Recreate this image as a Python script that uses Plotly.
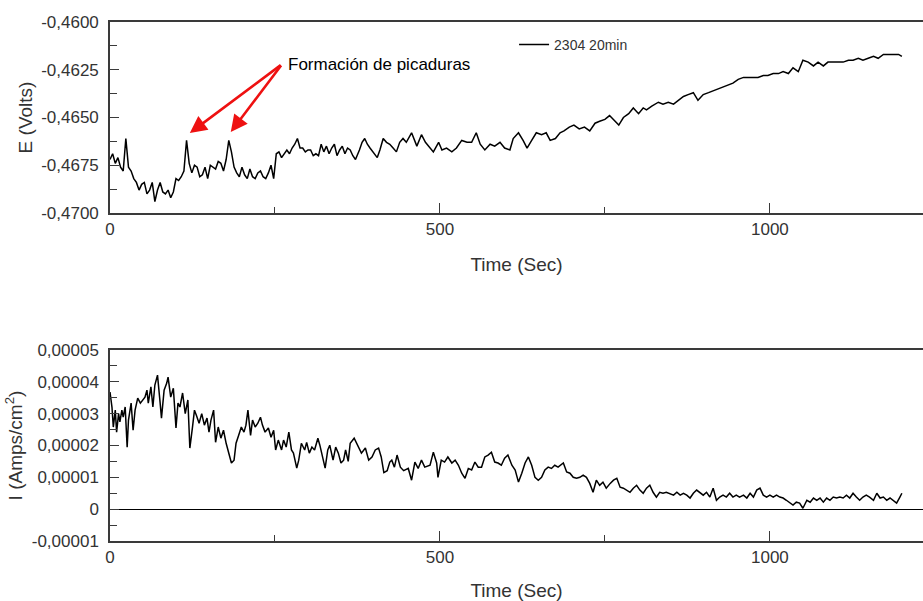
import plotly.graph_objects as go

# ---------------- data ----------------
t_E = [0, 4, 8, 12, 16, 20, 24, 28, 32, 36, 40, 44, 48, 52, 56, 60, 64, 68, 72, 76,
       80, 84, 88, 92, 96, 100, 104, 108, 112, 116, 120, 124, 128, 132, 136, 140, 144, 148, 152, 156,
       160, 164, 168, 172, 176, 180, 184, 188, 192, 196, 200, 204, 208, 212, 216, 220, 224, 228, 232, 236,
       240, 244, 248, 252, 256, 260, 264, 268, 272, 276, 280, 284, 288, 292, 296, 300, 304, 308, 312, 316,
       320, 324, 328, 332, 336, 340, 344, 348, 352, 356, 360, 364, 368, 372, 378, 382, 386, 390,
       394, 399, 405, 409, 414, 419, 424, 429, 434, 439, 444, 449, 457, 465, 472, 478, 483, 490, 498, 503,
       510, 518, 525, 533, 541, 548, 555, 561, 568, 576, 583, 591, 598, 606, 611, 619, 626, 632, 639, 646,
       654, 661, 667, 675, 682, 688, 696, 703, 711, 719, 727, 735, 742, 750, 757, 763, 771, 778, 786, 793,
       801, 808, 813, 821, 831, 838, 846, 854, 861, 869, 876, 884, 891, 899, 907, 914, 922, 929, 937, 944,
       952, 960, 967, 975, 982, 990, 997, 1005, 1013, 1020, 1028, 1035, 1043, 1050, 1058, 1066, 1073, 1081, 1088, 1096,
       1104, 1111, 1119, 1126, 1134, 1141, 1149, 1157, 1164, 1172, 1179, 1187, 1195, 1200]
E_volts = [-0.4672, -0.4669, -0.4674, -0.4671, -0.4676, -0.4678, -0.4661, -0.4676, -0.4678, -0.4682,
           -0.4684, -0.4688, -0.4685, -0.4684, -0.4690, -0.4688, -0.4684, -0.4694, -0.4688, -0.4684,
           -0.4689, -0.4690, -0.4688, -0.4692, -0.4689, -0.4682, -0.4683, -0.4681, -0.4678, -0.4662,
           -0.4674, -0.4679, -0.4675, -0.4676, -0.4681, -0.4680, -0.4676, -0.4682, -0.4675, -0.4676,
           -0.4677, -0.4673, -0.4674, -0.4678, -0.4672, -0.4662, -0.4668, -0.4676, -0.4679, -0.4681,
           -0.4676, -0.4680, -0.4682, -0.4677, -0.4681, -0.4682, -0.4679, -0.4678, -0.4681, -0.4682,
           -0.4679, -0.4675, -0.4682, -0.4669, -0.4668, -0.4671, -0.4669, -0.4667, -0.4669, -0.4666,
           -0.4664, -0.4661, -0.4666, -0.4666, -0.4668, -0.4667, -0.4667, -0.4670, -0.4669, -0.4670,
           -0.4664, -0.4668, -0.4665, -0.4669, -0.4666, -0.4664, -0.4670, -0.4667, -0.4665, -0.4669,
           -0.4666, -0.4667, -0.4670, -0.4672, -0.4667, -0.4663, -0.4661, -0.4664,
           -0.4666, -0.4668, -0.4671, -0.4667, -0.4661, -0.4663, -0.4664, -0.4666, -0.4668, -0.4663,
           -0.4661, -0.4663, -0.4658, -0.4665, -0.4659, -0.4663, -0.4665, -0.4668, -0.4663, -0.4667,
           -0.4666, -0.4668, -0.4666, -0.4662, -0.4663, -0.4663, -0.4658, -0.4664, -0.4667, -0.4664,
           -0.4665, -0.4663, -0.4666, -0.4667, -0.4661, -0.4658, -0.4662, -0.4666, -0.4662, -0.4658,
           -0.4659, -0.4658, -0.4662, -0.4661, -0.4658, -0.4657, -0.4655, -0.4654, -0.4656, -0.4655,
           -0.4657, -0.4653, -0.4652, -0.4651, -0.4649, -0.4651, -0.4654, -0.4650, -0.4648, -0.4645,
           -0.4648, -0.4645, -0.4646, -0.4644, -0.4642, -0.4643, -0.4642, -0.4643, -0.4641, -0.4639,
           -0.4638, -0.4637, -0.4641, -0.4638, -0.4637, -0.4636, -0.4635, -0.4634, -0.4633, -0.4632,
           -0.4630, -0.4629, -0.4629, -0.4629, -0.4629, -0.4628, -0.4628, -0.4627, -0.4627, -0.4626,
           -0.4627, -0.4624, -0.4626, -0.4620, -0.4621, -0.4623, -0.4621, -0.4623, -0.4621, -0.4621,
           -0.4621, -0.4621, -0.4620, -0.4620, -0.4619, -0.4620, -0.4619, -0.4618, -0.4619, -0.4617,
           -0.4617, -0.4617, -0.4617, -0.4618]

t_I = [0, 3, 5, 8, 10, 13, 15, 18, 20, 23, 26, 28, 32, 35, 38, 42, 46, 49, 53, 56,
       58, 62, 65, 68, 72, 76, 78, 82, 86, 88, 92, 96, 100, 103, 106, 110, 114, 118, 121, 125,
       128, 131, 135, 139, 143, 147, 150, 153, 157, 160, 164, 168, 172, 176, 180, 184, 188, 191, 195, 199,
       203, 206, 209, 213, 216, 220, 224, 228, 231, 235, 240, 244, 248, 251, 255, 260, 263, 267, 271, 275,
       278, 283, 286, 290, 295, 298, 302, 306, 310, 315, 318, 322, 326, 330, 333, 338, 342, 346, 350, 354,
       357, 361, 364, 370, 376, 381, 387, 392, 397, 402, 407, 411, 415, 420, 424, 427, 431, 435, 440, 445,
       452, 457, 462, 467, 472, 477, 485, 490, 495, 497, 502, 507, 512, 518, 523, 528, 533, 538, 543, 548,
       553, 558, 563, 568, 573, 578, 583, 588, 593, 598, 603, 609, 614, 619, 624, 629, 634, 639, 644, 649,
       654, 659, 664, 669, 674, 679, 687, 692, 697, 702, 707, 712, 717, 722, 727, 732, 737, 742, 747, 752,
       758, 763, 768, 773, 778, 783, 788, 793, 798, 803, 808, 813, 818, 823, 828, 833, 838, 843, 848, 854,
       859, 864, 869, 874, 879, 884, 889, 894, 899, 904, 909, 914, 919, 924, 929, 934, 939, 944, 949, 954,
       960, 965, 970, 975, 980, 985, 990, 995, 1000, 1005, 1010, 1015, 1020, 1025, 1030, 1035, 1040, 1045, 1050, 1056,
       1061, 1066, 1071, 1076, 1081, 1086, 1091, 1096, 1101, 1106, 1111, 1116, 1121, 1126, 1131, 1136, 1141, 1146, 1151, 1157,
       1162, 1167, 1172, 1177, 1182, 1187, 1192, 1197, 1200]
I_amps_cm2 = [3.68e-5, 3.20e-5, 2.58e-5, 3.11e-5, 2.42e-5, 3.00e-5, 2.74e-5, 3.11e-5, 2.89e-5, 3.21e-5,
              1.95e-5, 2.80e-5, 3.33e-5, 2.48e-5, 3.11e-5, 3.49e-5, 3.33e-5, 3.43e-5, 3.52e-5, 3.74e-5,
              3.33e-5, 3.84e-5, 3.21e-5, 3.90e-5, 4.21e-5, 3.33e-5, 2.86e-5, 3.74e-5, 3.96e-5, 4.15e-5,
              3.52e-5, 3.80e-5, 2.55e-5, 3.33e-5, 3.21e-5, 3.65e-5, 3.00e-5, 3.43e-5, 1.92e-5, 2.58e-5,
              3.11e-5, 2.94e-5, 2.70e-5, 3.00e-5, 2.64e-5, 2.86e-5, 2.42e-5, 2.80e-5, 3.11e-5, 2.10e-5,
              2.58e-5, 2.23e-5, 2.48e-5, 2.07e-5, 1.76e-5, 1.45e-5, 1.54e-5, 2.07e-5, 2.32e-5, 2.58e-5,
              2.42e-5, 2.64e-5, 3.11e-5, 2.32e-5, 2.80e-5, 2.58e-5, 2.70e-5, 2.89e-5, 2.64e-5, 2.42e-5,
              2.55e-5, 2.26e-5, 2.48e-5, 1.86e-5, 2.17e-5, 1.86e-5, 2.17e-5, 1.95e-5, 2.42e-5, 1.86e-5,
              1.76e-5, 1.29e-5, 1.54e-5, 2.07e-5, 1.86e-5, 2.10e-5, 1.76e-5, 1.95e-5, 1.86e-5, 2.23e-5,
              2.01e-5, 1.64e-5, 1.29e-5, 1.86e-5, 2.01e-5, 1.54e-5, 1.95e-5, 1.76e-5, 1.45e-5, 1.54e-5,
              1.86e-5, 1.50e-5, 2.07e-5, 2.23e-5, 1.95e-5, 1.76e-5, 1.92e-5, 1.54e-5, 1.64e-5, 1.86e-5,
              1.92e-5, 1.64e-5, 1.15e-5, 1.21e-5, 1.48e-5, 1.54e-5, 1.32e-5, 1.70e-5, 1.32e-5, 1.21e-5,
              1.28e-5, 0.91e-5, 1.48e-5, 1.28e-5, 1.54e-5, 1.32e-5, 1.38e-5, 1.79e-5, 1.45e-5, 1.00e-5,
              1.54e-5, 1.48e-5, 1.64e-5, 1.45e-5, 1.54e-5, 1.38e-5, 1.13e-5, 0.97e-5, 1.28e-5, 1.23e-5,
              1.48e-5, 1.32e-5, 1.32e-5, 1.64e-5, 1.70e-5, 1.79e-5, 1.48e-5, 1.45e-5, 1.38e-5, 1.60e-5,
              1.70e-5, 1.38e-5, 1.23e-5, 0.85e-5, 1.13e-5, 1.45e-5, 1.64e-5, 1.38e-5, 1.00e-5, 0.91e-5,
              1.00e-5, 1.23e-5, 1.32e-5, 1.28e-5, 1.38e-5, 1.32e-5, 1.45e-5, 1.17e-5, 1.13e-5, 1.00e-5,
              0.97e-5, 1.00e-5, 1.07e-5, 1.00e-5, 0.81e-5, 0.53e-5, 0.91e-5, 0.75e-5, 0.85e-5, 0.66e-5,
              0.81e-5, 0.91e-5, 0.97e-5, 0.69e-5, 0.66e-5, 0.60e-5, 0.53e-5, 0.66e-5, 0.75e-5, 0.60e-5,
              0.50e-5, 0.66e-5, 0.75e-5, 0.53e-5, 0.38e-5, 0.53e-5, 0.50e-5, 0.53e-5, 0.50e-5, 0.44e-5,
              0.53e-5, 0.44e-5, 0.50e-5, 0.44e-5, 0.35e-5, 0.50e-5, 0.60e-5, 0.53e-5, 0.44e-5, 0.53e-5,
              0.38e-5, 0.66e-5, 0.28e-5, 0.38e-5, 0.44e-5, 0.38e-5, 0.50e-5, 0.38e-5, 0.44e-5, 0.38e-5,
              0.44e-5, 0.35e-5, 0.50e-5, 0.38e-5, 0.60e-5, 0.66e-5, 0.44e-5, 0.38e-5, 0.44e-5, 0.38e-5,
              0.44e-5, 0.38e-5, 0.35e-5, 0.28e-5, 0.19e-5, 0.13e-5, 0.22e-5, 0.19e-5, 0.03e-5, 0.28e-5,
              0.22e-5, 0.35e-5, 0.28e-5, 0.35e-5, 0.22e-5, 0.35e-5, 0.28e-5, 0.38e-5, 0.35e-5, 0.38e-5,
              0.35e-5, 0.44e-5, 0.35e-5, 0.50e-5, 0.38e-5, 0.28e-5, 0.38e-5, 0.44e-5, 0.38e-5, 0.28e-5,
              0.50e-5, 0.35e-5, 0.38e-5, 0.28e-5, 0.35e-5, 0.28e-5, 0.19e-5, 0.38e-5, 0.50e-5]

series_name = "2304 20min"
x_title = "Time (Sec)"
e_title = "E (Volts)"
i_title = "I (Amps/cm<sup>2</sup>)"
note_text = "Formación de picaduras"

x_ticks = [0, 500, 1000]
x_ticktext = ["0", "500", "1000"]
x_minor = [250, 750]
e_ticks = [-0.4700, -0.4675, -0.4650, -0.4625, -0.4600]
e_ticktext = ["-0,4700", "-0,4675", "-0,4650", "-0,4625", "-0,4600"]
e_minor = [-0.46875, -0.46625, -0.46375, -0.46125]
i_ticks = [-1e-5, 0, 1e-5, 2e-5, 3e-5, 4e-5, 5e-5]
i_ticktext = ["-0,00001", "0", "0,00001", "0,00002", "0,00003", "0,00004", "0,00005"]
i_minor = [-0.5e-5, 0.5e-5, 1.5e-5, 2.5e-5, 3.5e-5, 4.5e-5]

# pit marks (time, E) and the label anchor
pit_t = [121, 183]
pit_E = [-0.46581, -0.46576]
label_t, label_E = 261, -0.4622

# ---------------- figure ----------------
AX = "#3a3a3a"
TXT = "#333333"
FONT = "Liberation Sans, Arial, sans-serif"

fig = go.Figure()
fig.add_trace(go.Scatter(x=t_E, y=E_volts, mode="lines", name=series_name,
                         line=dict(color="black", width=1.5), xaxis="x", yaxis="y",
                         showlegend=True))
fig.add_trace(go.Scatter(x=t_I, y=I_amps_cm2, mode="lines", name=series_name,
                         line=dict(color="black", width=1.5), xaxis="x2", yaxis="y2",
                         showlegend=False))

def xaxis_cfg(anchor):
    return dict(anchor=anchor, domain=[0, 1], range=[0, 1232],
                showline=True, linecolor=AX, linewidth=1.5, mirror=True,
                ticks="inside", ticklen=10, tickwidth=1.2, tickcolor=AX,
                tickvals=x_ticks, ticktext=x_ticktext,
                minor=dict(tickvals=x_minor, ticks="inside", ticklen=6, tickwidth=1.2, tickcolor=AX),
                showgrid=False, zeroline=False,
                tickfont=dict(size=17, color=TXT, family=FONT),
                title=dict(text=x_title, font=dict(size=19, color=TXT, family=FONT), standoff=20))

def yaxis_cfg(anchor, dom, rng, tv, tt, mv, title, zl):
    return dict(anchor=anchor, domain=dom, range=rng,
                showline=True, linecolor=AX, linewidth=1.5, mirror=False,
                ticks="inside", ticklen=9, tickwidth=1.2, tickcolor=AX,
                tickvals=tv, ticktext=tt,
                minor=dict(tickvals=mv, ticks="inside", ticklen=7, tickwidth=1.2, tickcolor=AX),
                showgrid=False, zeroline=zl, zerolinecolor="black", zerolinewidth=1.2,
                ticklabelstandoff=6,
                tickfont=dict(size=17, color=TXT, family=FONT),
                title=dict(text=title, font=dict(size=19, color=TXT, family=FONT), standoff=4))

fig.update_layout(
    width=923, height=601,
    margin=dict(l=110, r=0, t=22, b=60),
    paper_bgcolor="white", plot_bgcolor="white",
    font=dict(family=FONT, color=TXT),
    xaxis=xaxis_cfg("y"),
    yaxis=yaxis_cfg("x", [0.632, 1.0], [-0.4700, -0.4600], e_ticks, e_ticktext, e_minor, e_title, False),
    xaxis2=xaxis_cfg("y2"),
    yaxis2=yaxis_cfg("x2", [0.0, 0.368], [-1e-5, 5e-5], i_ticks, i_ticktext, i_minor, i_title, True),
    legend=dict(x=0.497, y=0.956, xanchor="left", yanchor="middle",
                bgcolor="rgba(0,0,0,0)", font=dict(size=14, color=TXT, family=FONT),
                itemwidth=30, tracegroupgap=0),
    showlegend=True,
)

for pt, pe in zip(pit_t, pit_E):
    fig.add_annotation(x=pt, y=pe, xref="x", yref="y", ax=label_t, ay=label_E,
                       axref="x", ayref="y", text="", showarrow=True,
                       arrowhead=2, arrowsize=1.3, arrowwidth=2.6, arrowcolor="#ee1111",
                       standoff=0, startstandoff=0)

fig.add_annotation(x=label_t, y=label_E, xref="x", yref="y", text=note_text,
                   showarrow=False, xanchor="left", yanchor="middle", xshift=4,
                   font=dict(size=17, color="black", family=FONT))

fig.write_html("out.html")
